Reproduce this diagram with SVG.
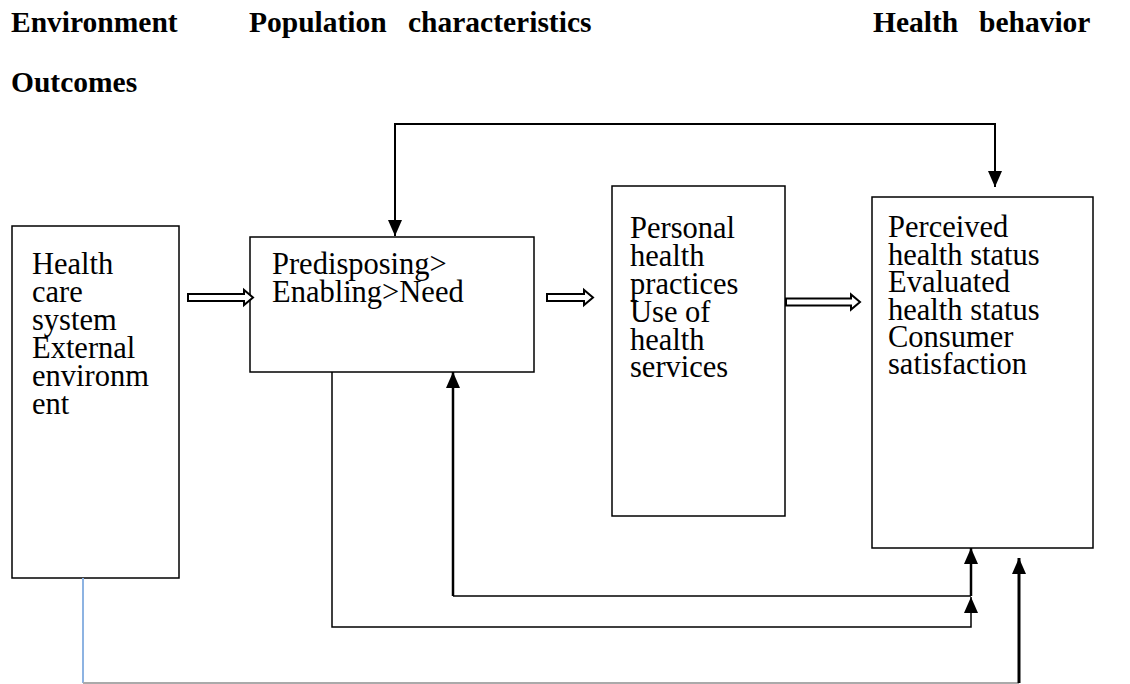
<svg xmlns="http://www.w3.org/2000/svg" width="1130" height="684" viewBox="0 0 1130 684">
<style>
.hd{font-family:"Liberation Serif","Times New Roman",serif;font-weight:bold;font-size:29.5px;fill:#000}
.tx{font-family:"Liberation Serif","Times New Roman",serif;font-size:30.5px;fill:#000}
.box{fill:#fff;stroke:#000;stroke-width:1.5}
.dbl{fill:#fff;stroke:#000;stroke-width:2;stroke-linejoin:miter}
.ln{fill:none;stroke:#000}
</style>
<defs>
<marker id="ah" viewBox="0 0 16 14" refX="16" refY="7" markerWidth="16" markerHeight="14" markerUnits="userSpaceOnUse" orient="auto-start-reverse">
<path d="M0,0 L16,7 L0,14 Z" fill="#000"/>
</marker>
</defs>
<rect width="1130" height="684" fill="#fff"/>
<g id="headers">
<text class="hd" x="11" y="32">Environment</text>
<text class="hd" x="249" y="32">Population</text>
<text class="hd" x="408" y="32">characteristics</text>
<text class="hd" x="873" y="32">Health</text>
<text class="hd" x="979" y="32">behavior</text>
<text class="hd" x="11" y="92">Outcomes</text>
</g>
<g id="environment">
<rect class="box" x="12" y="226" width="167" height="352"/>
<text class="tx" x="32" y="274">Health</text>
<text class="tx" x="32" y="302">care</text>
<text class="tx" x="32" y="330">system</text>
<text class="tx" x="32" y="358">External</text>
<text class="tx" x="32" y="386">environm</text>
<text class="tx" x="32" y="414">ent</text>
</g>
<g id="population">
<rect class="box" x="250" y="237" width="284" height="135"/>
<text class="tx" x="272" y="274">Predisposing&gt;</text>
<text class="tx" x="272" y="302">Enabling&gt;Need</text>
</g>
<g id="behavior">
<rect class="box" x="612" y="186" width="173" height="330"/>
<text class="tx" x="630" y="238">Personal</text>
<text class="tx" x="630" y="266">health</text>
<text class="tx" x="630" y="294">practices</text>
<text class="tx" x="630" y="322">Use of</text>
<text class="tx" x="630" y="350">health</text>
<text class="tx" x="630" y="377">services</text>
</g>
<g id="outcomes">
<rect class="box" x="872" y="197" width="221" height="351"/>
<text class="tx" x="888" y="237">Perceived</text>
<text class="tx" x="888" y="265">health status</text>
<text class="tx" x="888" y="292">Evaluated</text>
<text class="tx" x="888" y="320">health status</text>
<text class="tx" x="888" y="347">Consumer</text>
<text class="tx" x="888" y="374">satisfaction</text>
</g>
<g id="connectors">
<path class="dbl" d="M188,294 H244 V290 L253,297.5 L244,305 V301 H188 Z"/>
<path class="dbl" d="M547,294 H584 V290 L593,297.5 L584,305 V301 H547 Z"/>
<path class="dbl" d="M786,298.5 H851 V294.5 L860,302 L851,309.5 V305.5 H786 Z"/>
<path class="ln" stroke-width="2" d="M395,236 V124 H995 V187" marker-start="url(#ah)" marker-end="url(#ah)"/>
<path class="ln" stroke-width="1.5" d="M332,372 V627 H971 V597" marker-end="url(#ah)"/>
<path class="ln" stroke-width="1.5" d="M453,596 H971"/>
<path class="ln" stroke-width="2.5" d="M453,596 V372" marker-end="url(#ah)"/>
<path class="ln" stroke-width="2.5" d="M971,596 V548" marker-end="url(#ah)"/>
<path fill="none" stroke="#8db3e2" stroke-width="2" d="M83,578 V683"/>
<path fill="none" stroke="#aaaaaa" stroke-width="2" d="M83,683 H1019"/>
<path class="ln" stroke-width="3" d="M1019,683 V558" marker-end="url(#ah)"/>
</g>
</svg>
